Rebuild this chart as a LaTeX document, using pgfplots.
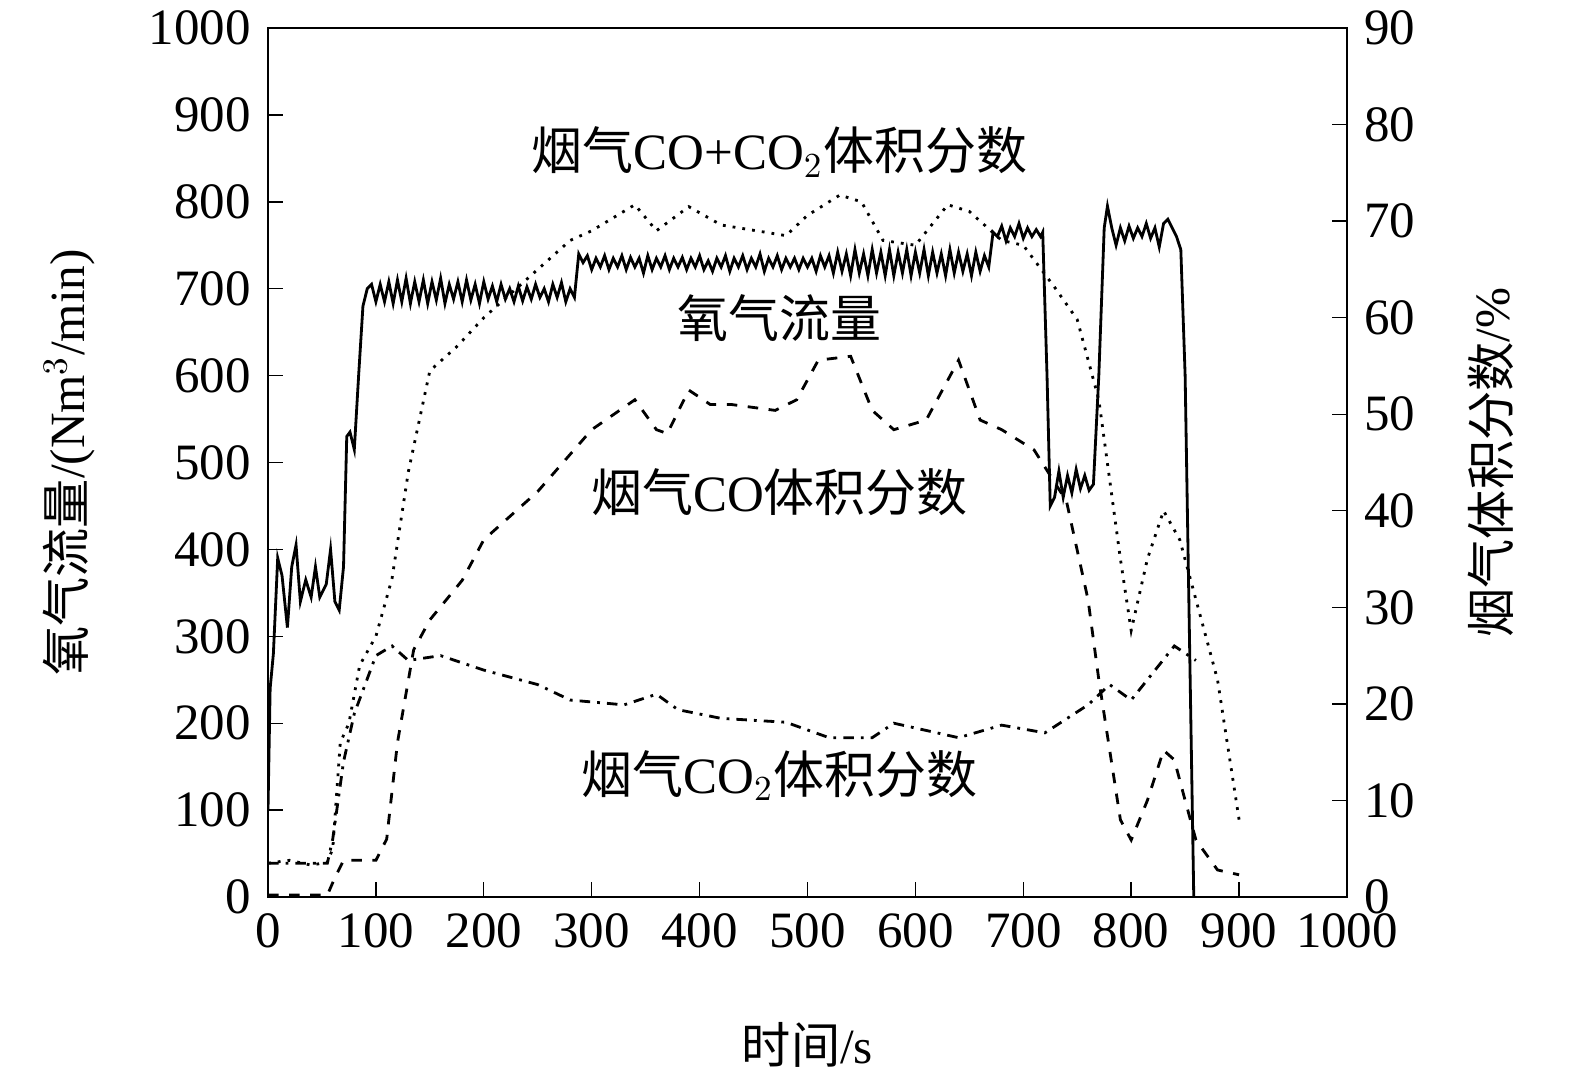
\documentclass[border=0pt]{standalone}
\usepackage{pgfplots}
\pgfplotsset{compat=1.18}
\usepackage{fontspec}
\setmainfont{Liberation Serif}
\newfontfamily\cjk{Noto Sans CJK SC}
\begin{document}
\fontsize{14}{16}\selectfont
\begin{tikzpicture}
\pgfplotsset{every axis/.append style={scale only axis,width=107.9mm,height=86.9mm,
 /pgf/number format/1000 sep={},/pgf/number format/assume math mode=true,
 tick style={black,thin},tick label style={font=\fontsize{14.5}{16}\selectfont},
 label style={font=\fontsize{14}{16}\selectfont}}}
\begin{axis}[name=ax,xmin=0,xmax=1000,ymin=0,ymax=1000,xtick={0,100,...,1000},ytick={0,100,...,1000},
 ytick pos=left,xtick pos=bottom,
 xlabel={\cjk 时间}/s,ylabel={\cjk 氧气流量}/(Nm$^3$/min),
 xlabel style={yshift=-4mm},ylabel style={yshift=2mm}]
\addplot[black,thick] coordinates {
(0,100)(2,240)(5,280)(9,390)(13,370)(18,310)(22,380)(26,405)(30,340)(35,365)(40,345)(44,380)(48,345)(54,360)(58,400)(62,340)(66,330)(70,380)(73,530)(76,535)(80,515)(84,600)(88,680)(92,700)
(96,705)(100,685)(104,705)(108,685)(112,708)(116,683)(120,710)(124,685)(128,712)(132,683)(136,708)(140,685)(144,710)(148,683)(152,708)(156,687)(160,712)(164,683)(168,705)(172,688)(176,708)(180,685)(184,710)(188,687)(192,705)(196,683)(200,708)(204,688)(208,703)(212,685)(216,705)(220,688)(224,700)(228,685)(232,703)(236,686)(240,702)(244,688)(248,705)(252,690)(256,700)(260,685)(264,705)(268,690)(272,707)(276,685)(280,700)(284,690)
(288,740)(292,730)(296,738)(300,722)(304,735)(308,725)(312,738)(316,722)(320,735)(324,725)(328,738)(332,722)(336,736)(340,725)(344,735)(348,718)(352,738)(356,722)(360,735)(364,725)(368,738)(372,722)(376,735)(380,725)(384,736)(388,722)(392,735)(396,725)(400,738)(404,722)(408,732)(412,720)(416,735)(420,725)(424,738)(428,720)(432,735)(436,725)(440,738)(444,722)(448,735)(452,725)(456,740)(460,720)(464,735)(468,725)(472,738)(476,722)(480,735)(484,725)(488,735)(492,722)(496,735)(500,725)(504,735)(508,720)(512,738)(516,725)(520,738)(524,718)(528,742)(532,720)(536,740)(540,715)(544,745)(548,718)(552,740)(556,715)(560,745)(564,718)(568,742)(572,715)(576,745)(580,715)(584,742)(588,718)(592,745)(596,715)(600,742)(604,718)(608,745)(612,715)(616,742)(620,718)(624,740)(628,715)(632,745)(636,718)(640,742)(644,720)(648,740)(652,715)(656,742)(660,720)(664,738)(668,725)
(672,765)(676,760)(680,772)(684,755)(688,770)(692,760)(696,775)(700,758)(704,770)(708,760)(712,768)(716,760)(718,765)(722,600)(725,450)(729,460)(733,490)(737,460)(741,485)(745,465)(749,492)(753,470)(757,485)(761,468)(765,475)(770,600)(775,770)(778,795)(782,770)(786,750)(790,770)(794,755)(798,772)(802,758)(806,770)(810,760)(814,775)(818,758)(822,770)(826,748)(830,775)(834,780)(838,770)(842,760)(846,745)(850,600)(854,300)(858,0)};
\node[font=\cjk\fontsize{14.5}{16}\selectfont] at (axis cs:474,857) {烟气\rmfamily CO+CO$_2$\cjk 体积分数};
\node[font=\cjk\fontsize{14.5}{16}\selectfont] at (axis cs:474,666) {氧气流量};
\node[font=\cjk\fontsize{14.5}{16}\selectfont] at (axis cs:474,466) {烟气\rmfamily CO\cjk 体积分数};
\node[font=\cjk\fontsize{14.5}{16}\selectfont] at (axis cs:474,140) {烟气\rmfamily CO$_2$\cjk 体积分数};
\end{axis}
\begin{axis}[xmin=0,xmax=1000,ymin=0,ymax=90,ytick={0,10,...,90},axis x line=none,axis y line*=right,
 ylabel={\cjk 烟气体积分数}/\%,ylabel style={yshift=-2mm}]
\addplot[black,thick,dotted] coordinates {
(0,3.5)(20,3.8)(40,3.3)(55,3.6)(60,5)(67,16)(75,18)(85,24)(100,27)(115,33)(130,44)(150,54.5)(175,57)(200,60)(250,65)(280,68)(300,69)(340,71.7)(360,69)(390,71.5)(420,69.6)(480,68.5)(500,70.6)(530,72.7)(550,72)(570,68)(600,67.5)(630,71.7)(650,71)(680,68)(700,67.5)(730,63)(750,59.8)(770,51.5)(790,35)(800,27.6)(815,35)(830,40)(845,37)(860,30.8)(880,22.5)(900,8)};
\addplot[black,thick,dashed] coordinates {
(0,0.2)(55,0.2)(62,2)(70,3.8)(100,3.8)(110,6)(120,16)(135,25.6)(150,28.7)(180,32.8)(200,37)(250,42)(300,48.4)(340,51.5)(360,48.4)(370,48)(390,52.5)(410,51)(430,51)(470,50.4)(490,51.5)(510,55.6)(540,56)(560,50.4)(580,48.4)(610,49.4)(640,55.6)(660,49.4)(680,48.4)(710,46.3)(740,41)(760,30.8)(770,22.5)(790,8)(800,5.9)(815,10)(830,15.2)(840,14.2)(850,10)(860,5.9)(880,2.8)(900,2.3)};
\addplot[black,thick,dash dot] coordinates {
(0,3.5)(55,3.5)(60,6)(70,14)(80,19)(100,25)(115,26)(130,24.5)(160,25)(200,23.5)(250,22)(280,20.4)(330,19.9)(360,21)(380,19.4)(420,18.5)(480,18.1)(520,16.5)(560,16.5)(580,18)(640,16.5)(680,17.8)(720,17)(760,19.9)(780,22)(800,20.4)(840,26)(860,24.5)};
\end{axis}
\pgfresetboundingbox
\path ([shift={(-26.8mm,-17.3mm)}]ax.south west) rectangle ([shift={(22.8mm,2.8mm)}]ax.north east);
\end{tikzpicture}
\end{document}
